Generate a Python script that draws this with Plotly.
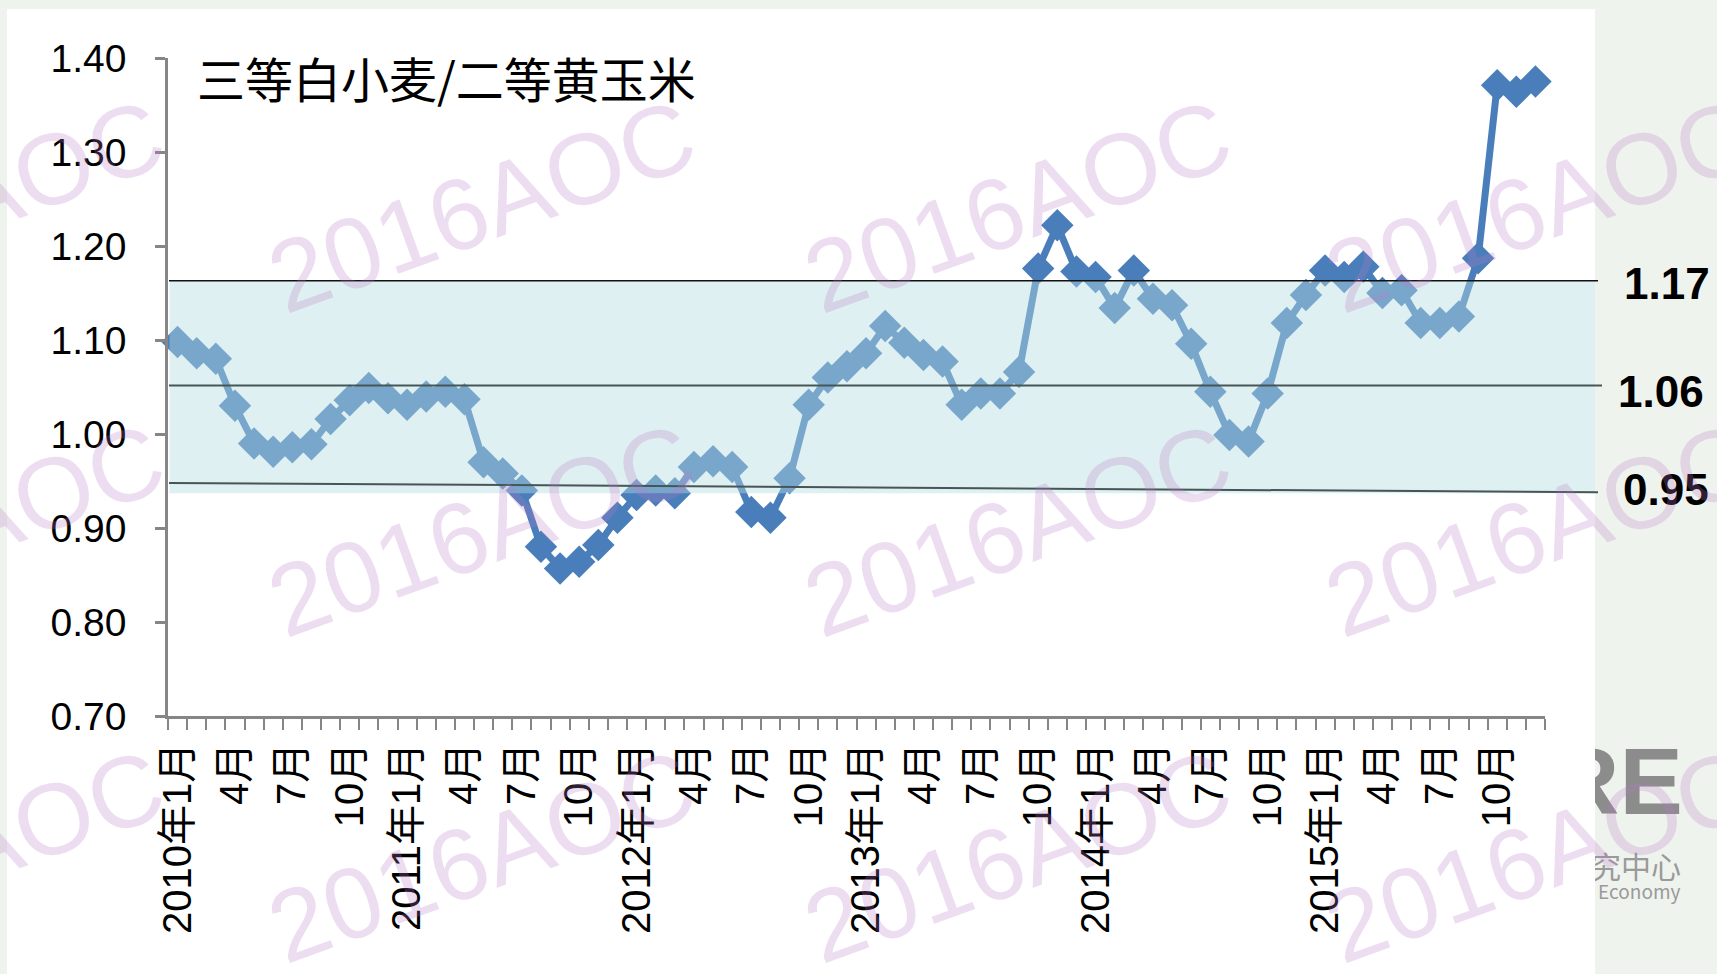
import plotly.graph_objects as go

W, H = 1717, 974

# ---------------- data ----------------
years = [2010, 2011, 2012, 2013, 2014, 2015]
month_nums = list(range(1, 13))
categories = [f"{y}年{m}月" if m == 1 else f"{m}月" for y in years for m in month_nums]

ratio = [1.098, 1.086, 1.080, 1.030, 0.990, 0.981, 0.986, 0.989, 1.016, 1.036, 1.049, 1.038,
         1.031, 1.040, 1.045, 1.037, 0.970, 0.958, 0.940, 0.880, 0.857, 0.864, 0.882, 0.911,
         0.935, 0.940, 0.937, 0.965, 0.971, 0.965, 0.917, 0.911, 0.953, 1.031, 1.060, 1.072,
         1.086, 1.115, 1.097, 1.084, 1.077, 1.031, 1.043, 1.043, 1.066,
         1.176, 1.222, 1.173, 1.167, 1.134, 1.174, 1.144, 1.137, 1.096, 1.045, 0.999, 0.992, 1.043,
         1.118, 1.148, 1.174, 1.167, 1.178, 1.150, 1.153, 1.118, 1.118, 1.125, 1.187, 1.371, 1.364, 1.375]

title_text = "三等白小麦/二等黄玉米"
y_ticks = [0.70, 0.80, 0.90, 1.00, 1.10, 1.20, 1.30, 1.40]

band_labels = ["1.17", "1.06", "0.95"]
band_left = [1.163, 1.0515, 0.948]    # drawn line level at left end
band_right = [1.163, 1.0515, 0.938]   # drawn line level at right end
band_fill = [0.937, 1.163]

watermark = "2016AOC"
logo_lines = ["RCRE", "农村经济研究中心", "Research Center for Rural Economy"]

# ---------------- geometry helpers (pixels -> paper) ----------------
def px(x):
    return x / W

def py(y):
    return 1 - y / H

X0, X1 = 168, 1545
Y0, Y1 = 58, 716

x_idx = list(range(len(categories)))
tick_idx = x_idx[::3]
tick_txt = categories[::3]

DARK = "#4A7EBB"
GRAY = "#868686"

fig = go.Figure()

fig.add_trace(go.Scatter(
    x=x_idx, y=ratio, mode="lines+markers",
    line=dict(color=DARK, width=7),
    marker=dict(symbol="diamond", size=25, color=DARK),
    showlegend=False, hoverinfo="skip", cliponaxis=False,
))

# logo text clipped by an auxiliary invisible subplot
fig.add_trace(go.Scatter(
    x=[0.72], y=[0.63], mode="text", text=[logo_lines[0]],
    textposition="middle left",
    textfont=dict(family="Liberation Sans, Arial", size=95, color="#8C8C8C", weight="bold"),
    xaxis="x2", yaxis="y2", cliponaxis=True, showlegend=False, hoverinfo="skip",
))
fig.add_trace(go.Scatter(
    x=[0.705, 0.70], y=[0.355, 0.273], mode="text", text=logo_lines[1:],
    textposition="middle left",
    textfont=dict(family="Noto Sans CJK SC, Liberation Sans", size=[30, 19], color="#9A9A9A"),
    xaxis="x2", yaxis="y2", cliponaxis=True, showlegend=False, hoverinfo="skip",
))

shapes = []
# white chart area
shapes.append(dict(type="rect", xref="paper", yref="paper",
                   x0=px(7), x1=px(1595), y0=0, y1=py(9),
                   fillcolor="white", line=dict(width=0), layer="below"))
# translucent band (above the series)
shapes.append(dict(type="rect", xref="paper", yref="y",
                   x0=px(169.5), x1=px(1595), y0=band_fill[0], y1=band_fill[1],
                   fillcolor="rgba(182,220,226,0.44)", line=dict(width=0), layer="above"))
line_styles = [("#111111", 1.6, 1598), ("#465656", 2.0, 1602), ("#465656", 2.0, 1598)]
for (c, w, xe), yl, yr in zip(line_styles, band_left, band_right):
    shapes.append(dict(type="line", xref="paper", yref="y",
                       x0=px(X0 + 1), x1=px(xe), y0=yl, y1=yr,
                       line=dict(color=c, width=w), layer="above"))

annotations = []
annotations.append(dict(text=title_text, xref="paper", yref="paper",
                        x=px(195), y=py(77), xanchor="left", yanchor="middle",
                        showarrow=False,
                        font=dict(family="Noto Sans CJK SC", size=48, color="black")))
label_pos = [(1667, 283), (1661, 391), (1666, 489)]
for lab, (lx, ly) in zip(band_labels, label_pos):
    annotations.append(dict(text=lab, xref="paper", yref="paper", x=px(lx), y=py(ly),
                            xanchor="center", yanchor="middle", showarrow=False,
                            font=dict(family="Liberation Sans, Arial", size=44,
                                      color="black", weight="bold")))

wm_cols = [-49, 482, 1018, 1539]
wm_rows = [206, 530, 856]
for wy in wm_rows:
    for wx in wm_cols:
        annotations.append(dict(text=watermark, xref="paper", yref="paper",
                                x=px(wx), y=py(wy), xanchor="center", yanchor="middle",
                                showarrow=False, textangle=-20,
                                font=dict(family="Liberation Sans, Arial", size=101,
                                          color="rgba(185,120,195,0.25)")))

fig.update_layout(
    width=W, height=H,
    margin=dict(l=0, r=0, t=0, b=0),
    paper_bgcolor="#EFF3EE",
    plot_bgcolor="rgba(0,0,0,0)",
    showlegend=False,
    shapes=shapes,
    annotations=annotations,
    xaxis=dict(
        domain=[px(X0), px(X1)], range=[-0.5, len(categories) - 0.5],
        tickmode="array", tickvals=tick_idx, ticktext=tick_txt,
        tickangle=-90, ticks="", showgrid=False, zeroline=False,
        showline=True, linecolor=GRAY, linewidth=2.5,
        tickfont=dict(family="Liberation Sans, Arial, Noto Sans CJK SC", size=40, color="black"),
        ticklabelstandoff=8,
        minor=dict(tickmode="array", tickvals=[i - 0.5 for i in range(len(categories) + 1)],
                   ticks="outside", ticklen=11, tickwidth=2, tickcolor=GRAY, showgrid=False),
        automargin=False, fixedrange=True,
    ),
    yaxis=dict(
        domain=[py(Y1), py(Y0)], range=[0.70, 1.40],
        tickmode="array", tickvals=y_ticks, tickformat=".2f",
        ticks="outside", ticklen=10, tickwidth=2.5, tickcolor=GRAY,
        showgrid=False, zeroline=False,
        showline=True, linecolor=GRAY, linewidth=2.5,
        tickfont=dict(family="Liberation Sans, Arial", size=39, color="black"),
        ticklabelstandoff=21,
        automargin=False, fixedrange=True,
    ),
    xaxis2=dict(domain=[px(1595), 1.0], range=[0, 1], visible=False, anchor="y2",
                fixedrange=True),
    yaxis2=dict(domain=[0, 0.3], range=[0, 1], visible=False, anchor="x2",
                fixedrange=True),
)

fig.write_html(
    "out.html",
    config={"displayModeBar": False},
    post_script="document.body.style.margin='0px';document.body.style.overflow='hidden';"
                "document.body.style.background='#EFF3EE';",
)
